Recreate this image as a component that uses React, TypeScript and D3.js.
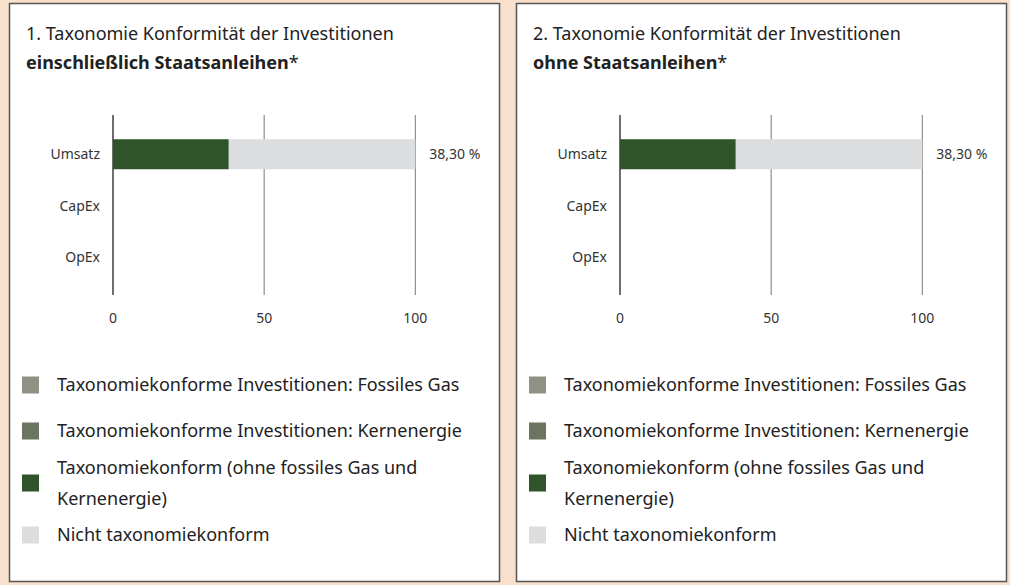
import { useEffect, useRef } from "react";
import * as d3 from "d3";

// chart data
const categories = ["Umsatz", "CapEx", "OpEx"];
const fossilGas = [0, 0, 0];
const nuclear = [0, 0, 0];
const aligned = [38.3, 0, 0];
const notAligned = [61.7, 0, 0];
const valueLabels = ["38,30 %", "", ""];
const xTicks = [0, 50, 100];

const seriesKeys = ["gas", "nuclear", "aligned", "not"];
const seriesColors = ["#8f9283", "#6b7562", "#30542a", "#dcdddf"];
const legendLabels = [
  ["Taxonomiekonforme Investitionen: Fossiles Gas"],
  ["Taxonomiekonforme Investitionen: Kernenergie"],
  ["Taxonomiekonform (ohne fossiles Gas und", "Kernenergie)"],
  ["Nicht taxonomiekonform"],
];

const panelTitles = [
  ["1. Taxonomie Konformität der Investitionen", "einschließlich Staatsanleihen"],
  ["2. Taxonomie Konformität der Investitionen", "ohne Staatsanleihen"],
];

const font = "'Noto Sans', sans-serif";

export default function App() {
  const ref = useRef<SVGSVGElement>(null);

  useEffect(() => {
    const svg = d3.select(ref.current);
    svg.selectAll("*").remove();

    svg.append("rect").attr("width", 1010).attr("height", 585).attr("fill", "#f9e0cc");

    const rows = categories.map((c, i) => ({
      cat: c,
      gas: fossilGas[i],
      nuclear: nuclear[i],
      aligned: aligned[i],
      not: notAligned[i],
      label: valueLabels[i],
    }));
    const stacked = d3.stack<any>().keys(seriesKeys)(rows);

    const panelW = 490;
    const panelH = 578;
    const panelXs = [9.5, 516.5];

    panelXs.forEach((px, pi) => {
      const g = svg.append("g").attr("transform", `translate(${px},3.5)`);

      g.append("rect")
        .attr("width", panelW)
        .attr("height", panelH)
        .attr("fill", "#fff")
        .attr("stroke", "#555")
        .attr("stroke-width", 1.5);

      // title
      const title = g.append("text")
        .style("font-family", font)
        .style("font-size", "18px")
        .style("fill", "#222");
      title.append("tspan").attr("x", 16.5).attr("y", 36).text(panelTitles[pi][0]);
      const t2 = title.append("tspan").attr("x", 16.5).attr("y", 65);
      t2.append("tspan").style("font-weight", "bold").text(panelTitles[pi][1]);
      t2.append("tspan").text("*");

      const x = d3.scaleLinear().domain([0, 100]).range([103.5, 405.8]);
      const y = d3.scaleBand<string>()
        .domain(categories)
        .range([125, 279.5])
        .paddingInner(0.417)
        .paddingOuter(0.2085);

      // gridlines
      g.append("g")
        .selectAll("line")
        .data(xTicks)
        .join("line")
        .attr("x1", d => x(d))
        .attr("x2", d => x(d))
        .attr("y1", 111.5)
        .attr("y2", 291.5)
        .attr("stroke", d => (d === 0 ? "#6e6e70" : "#777"))
        .attr("stroke-width", d => (d === 0 ? 2 : 1));

      // bars
      g.append("g")
        .selectAll("g")
        .data(stacked)
        .join("g")
        .attr("fill", (_d, i) => seriesColors[i])
        .selectAll("rect")
        .data(d => d)
        .join("rect")
        .attr("x", d => x(d[0]))
        .attr("y", d => y(d.data.cat)!)
        .attr("width", d => x(d[1]) - x(d[0]))
        .attr("height", y.bandwidth());

      // category labels
      g.append("g")
        .selectAll("text")
        .data(categories)
        .join("text")
        .attr("x", x(0) - 13)
        .attr("y", d => y(d)! + y.bandwidth() / 2)
        .attr("dy", "0.35em")
        .attr("text-anchor", "end")
        .style("font-family", font)
        .style("font-size", "14px")
        .style("fill", "#333")
        .text(d => d);

      // value labels
      g.append("g")
        .selectAll("text")
        .data(rows)
        .join("text")
        .attr("x", x(100) + 14)
        .attr("y", d => y(d.cat)! + y.bandwidth() / 2)
        .attr("dy", "0.35em")
        .style("font-family", font)
        .style("font-size", "14px")
        .style("fill", "#333")
        .text(d => d.label);

      // tick labels
      g.append("g")
        .selectAll("text")
        .data(xTicks)
        .join("text")
        .attr("x", d => x(d))
        .attr("y", 319)
        .attr("text-anchor", "middle")
        .style("font-family", font)
        .style("font-size", "14px")
        .style("fill", "#333")
        .text(d => d);

      // legend
      const legendY = [381.5, 427.5, 479.5, 531.5];
      legendLabels.forEach((lines, i) => {
        const lg = g.append("g").attr("transform", `translate(12.5,${legendY[i]})`);
        lg.append("rect")
          .attr("x", 0)
          .attr("y", -8.5)
          .attr("width", 17)
          .attr("height", 17)
          .attr("fill", seriesColors[i]);
        const lineH = 31;
        const t = lg.append("text")
          .style("font-family", font)
          .style("font-size", "18px")
          .style("fill", "#222");
        lines.forEach((ln, j) => {
          t.append("tspan")
            .attr("x", 35)
            .attr("y", (j - (lines.length - 1) / 2) * lineH)
            .attr("dy", "0.35em")
            .text(ln);
        });
      });
    });
  }, []);

  return (
    <div style={{ position: "absolute", left: 0, top: 0 }}>
      <svg ref={ref} width={1010} height={585} style={{ display: "block" }}></svg>
    </div>
  );
}
